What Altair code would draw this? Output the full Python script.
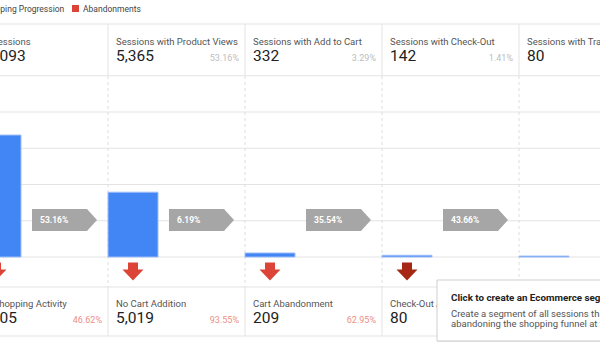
import altair as alt
import pandas as pd

# ---------------- data ----------------
steps = ["All Sessions", "Sessions with Product Views", "Sessions with Add to Cart",
         "Sessions with Check-Out", "Sessions with Transactions"]
sessions = [10093, 5365, 332, 142, 80]
step_share = ["", "53.16%", "3.29%", "1.41%", "0.79%"]
progress_pct = ["53.16%", "6.19%", "35.54%", "43.66%"]
aband_labels = ["No Shopping Activity", "No Cart Addition", "Cart Abandonment",
                "Check-Out Abandonment"]
aband_values = [4705, 5019, 209, 80]
aband_pct = ["46.62%", "93.55%", "62.95%", "56.34%"]
legend_labels = ["Shopping Progression", "Abandonments"]
grid_ticks = [0, 3000, 6000, 9000, 12000, 15000]
tip_title = "Click to create an Ecommerce segment"
tip_lines = ["Create a segment of all sessions that ended by",
             "abandoning the shopping funnel at this step."]

# ---------------- layout ----------------
W, H = 600, 342
COL_W = 137.0          # px per funnel step
COL0 = -29.0           # px of left edge of first step
BAR_W = 50 / COL_W     # bar width in step units
BASE = 257.0           # px of zero line
K = 36.25 / 3000       # px per session

def ux(px):
    return (px - COL0) / COL_W

def vy(px):
    return (BASE - px) / K

FONT = "Roboto"
xs = alt.Scale(domain=[ux(0), ux(W)], nice=False, zero=False)
ys = alt.Scale(domain=[vy(H), vy(0)], nice=False, zero=False)

def X(f):
    return alt.X(f, type="quantitative", scale=xs, axis=None)

def Y(f):
    return alt.Y(f, type="quantitative", scale=ys, axis=None)

n = len(steps)
bars = pd.DataFrame({"step": steps, "v": sessions,
                     "x0": [i for i in range(n)],
                     "x1": [i + BAR_W for i in range(n)],
                     "zero": [0] * n})

area_rows = []
for i, v in enumerate(sessions):
    area_rows.append({"x": i, "v": v, "zero": 0})
    area_rows.append({"x": i + BAR_W, "v": v, "zero": 0})
area_df = pd.DataFrame(area_rows)

funnel = alt.Chart(area_df).mark_area(color="#ebebeb", opacity=1).encode(
    x=X("x"), y=Y("v"), y2="zero:Q", order="x:Q")

grid_df = pd.DataFrame({"g": grid_ticks, "xa": ux(0), "xb": ux(W)})
grid = alt.Chart(grid_df).mark_rule(color="#e3e3e3", strokeWidth=1).encode(
    x=X("xa"), x2="xb:Q", y=Y("g"))

bar_layer = alt.Chart(bars).mark_rect(color="#4285f4", stroke="#9dbdf8",
                                      strokeWidth=1).encode(
    x=X("x0"), x2="x1:Q", y=Y("v"), y2="zero:Q")

# horizontal separators (header top, footer top, footer bottom)
hsep = pd.DataFrame({"yy": [vy(24), vy(287), vy(336)], "xa": ux(0), "xb": ux(W)})
hsep_layer = alt.Chart(hsep).mark_rule(color="#e3e3e3").encode(
    x=X("xa"), x2="xb:Q", y=Y("yy"))

bounds = list(range(1, n))
vdash = pd.DataFrame({"b": bounds, "ya": vy(76), "yb": vy(287)})
vdash_layer = alt.Chart(vdash).mark_rule(color="#dddddd", strokeDash=[3, 3]).encode(
    x=X("b"), y=Y("ya"), y2="yb:Q")
vsolid = pd.DataFrame({"b": bounds * 2,
                       "ya": [vy(24)] * len(bounds) + [vy(287)] * len(bounds),
                       "yb": [vy(76)] * len(bounds) + [vy(336)] * len(bounds)})
vsolid_layer = alt.Chart(vsolid).mark_rule(color="#e3e3e3").encode(
    x=X("b"), y=Y("ya"), y2="yb:Q")

# progression chevrons
PENT = "M -1 -0.338 L 0.692 -0.338 L 1 0 L 0.692 0.338 L -1 0.338 Z"
prog = pd.DataFrame({"pct": progress_pct,
                     "xc": [i + 93.5 / COL_W for i in range(len(progress_pct))],
                     "xt": [i + 69 / COL_W for i in range(len(progress_pct))],
                     "yc": vy(220)})
prog_shape = alt.Chart(prog).mark_point(shape=PENT, filled=True, size=65 * 65,
                                        color="#a6a6a6", opacity=1,
                                        strokeWidth=0).encode(
    x=X("xc"), y=Y("yc"))
prog_text = alt.Chart(prog).mark_text(align="left", baseline="middle", color="#ffffff",
                                      font=FONT, fontSize=8.5, fontWeight="bold").encode(
    x=X("xt"), y=Y("yc"), text="pct:N")

# abandonment arrows
ARROW = ("M -0.476 -0.857 L 0.476 -0.857 L 0.476 -0.19 L 1 -0.19 L 0 0.857 "
         "L -1 -0.19 L -0.476 -0.19 Z")
arr = pd.DataFrame({"lab": aband_labels,
                    "xc": [i + 25 / COL_W for i in range(len(aband_labels))],
                    "yc": vy(271.5),
                    "col": ["#db4437", "#db4437", "#db4437", "#a52714"]})
arrow_layer = alt.Chart(arr).mark_point(shape=ARROW, filled=True, size=21 * 21,
                                        opacity=1, strokeWidth=0).encode(
    x=X("xc"), y=Y("yc"), color=alt.Color("col:N", scale=None))

# header texts
head = pd.DataFrame({"lab": steps, "num": [f"{v:,}" for v in sessions],
                     "pct": step_share,
                     "xl": [i + 8 / COL_W for i in range(n)],
                     "xr": [i + 131 / COL_W for i in range(n)],
                     "y1": vy(45), "y2": vy(61)})
head_lab = alt.Chart(head).mark_text(align="left", baseline="alphabetic", color="#555555",
                                     font=FONT, fontSize=9.5).encode(
    x=X("xl"), y=Y("y1"), text="lab:N")
head_num = alt.Chart(head).mark_text(align="left", baseline="alphabetic", color="#212121",
                                     font=FONT, fontSize=15.5).encode(
    x=X("xl"), y=Y("y2"), text="num:N")
head_pct = alt.Chart(head).mark_text(align="right", baseline="alphabetic", color="#bdbdbd",
                                     font=FONT, fontSize=9).encode(
    x=X("xr"), y=Y("y2"), text="pct:N")

# footer texts
m = len(aband_labels)
foot = pd.DataFrame({"lab": aband_labels, "num": [f"{v:,}" for v in aband_values],
                     "pct": aband_pct,
                     "xl": [i + 8 / COL_W for i in range(m)],
                     "xr": [i + 131 / COL_W for i in range(m)],
                     "y1": vy(306.5), "y2": vy(323)})
foot_lab = alt.Chart(foot).mark_text(align="left", baseline="alphabetic", color="#555555",
                                     font=FONT, fontSize=9.5).encode(
    x=X("xl"), y=Y("y1"), text="lab:N")
foot_num = alt.Chart(foot).mark_text(align="left", baseline="alphabetic", color="#212121",
                                     font=FONT, fontSize=15.5).encode(
    x=X("xl"), y=Y("y2"), text="num:N")
foot_pct = alt.Chart(foot).mark_text(align="right", baseline="alphabetic", color="#ec8f84",
                                     font=FONT, fontSize=9).encode(
    x=X("xr"), y=Y("y2"), text="pct:N")

# legend
leg = pd.DataFrame({"lab": legend_labels,
                    "xs": [ux(-26), ux(75.5)], "xt": [ux(-19), ux(83)],
                    "yc": vy(8.5), "col": ["#4285f4", "#db4437"]})
leg_sq = alt.Chart(leg).mark_point(shape="square", filled=True, size=49, opacity=1,
                                   strokeWidth=0).encode(
    x=X("xs"), y=Y("yc"), color=alt.Color("col:N", scale=None))
leg_tx = alt.Chart(leg).mark_text(align="left", baseline="middle", color="#444444",
                                  font=FONT, fontSize=8.5).encode(
    x=X("xt"), y=Y("yc"), text="lab:N")

# tooltip box
tip_box = pd.DataFrame({"xa": [ux(438), ux(437)], "xb": [ux(660), ux(660)],
                        "ya": [vy(282), vy(280)], "yb": [vy(343), vy(341)],
                        "fill": ["#e4e4e4", "#ffffff"],
                        "stroke": ["#e4e4e4", "#cfcfcf"]})
tip_rect = alt.Chart(tip_box).mark_rect(strokeWidth=1).encode(
    x=X("xa"), x2="xb:Q", y=Y("ya"), y2="yb:Q",
    fill=alt.Fill("fill:N", scale=None), stroke=alt.Stroke("stroke:N", scale=None),
    order=alt.Order("ya:Q", sort="ascending"))
tip_t = pd.DataFrame({"t": [tip_title], "xx": ux(451), "yy": vy(301)})
tip_title_layer = alt.Chart(tip_t).mark_text(align="left", baseline="alphabetic",
                                             color="#222222", font=FONT, fontSize=9.8,
                                             fontWeight="bold").encode(
    x=X("xx"), y=Y("yy"), text="t:N")
tip_b = pd.DataFrame({"t": tip_lines, "xx": ux(451), "yy": [vy(316.5), vy(326.5)]})
tip_body_layer = alt.Chart(tip_b).mark_text(align="left", baseline="alphabetic",
                                            color="#555555", font=FONT,
                                            fontSize=9.5).encode(
    x=X("xx"), y=Y("yy"), text="t:N")

chart = alt.layer(
    funnel, grid, hsep_layer, vdash_layer, vsolid_layer, bar_layer,
    prog_shape, prog_text, arrow_layer,
    head_lab, head_num, head_pct, foot_lab, foot_num, foot_pct,
    leg_sq, leg_tx,
    tip_rect, tip_title_layer, tip_body_layer,
).properties(
    width=W, height=H, autosize=alt.AutoSizeParams(type="none"), padding=0,
    background="#ffffff"
).configure_view(strokeWidth=0)

chart.save("out.html", embed_options={"renderer": "svg", "actions": False})
